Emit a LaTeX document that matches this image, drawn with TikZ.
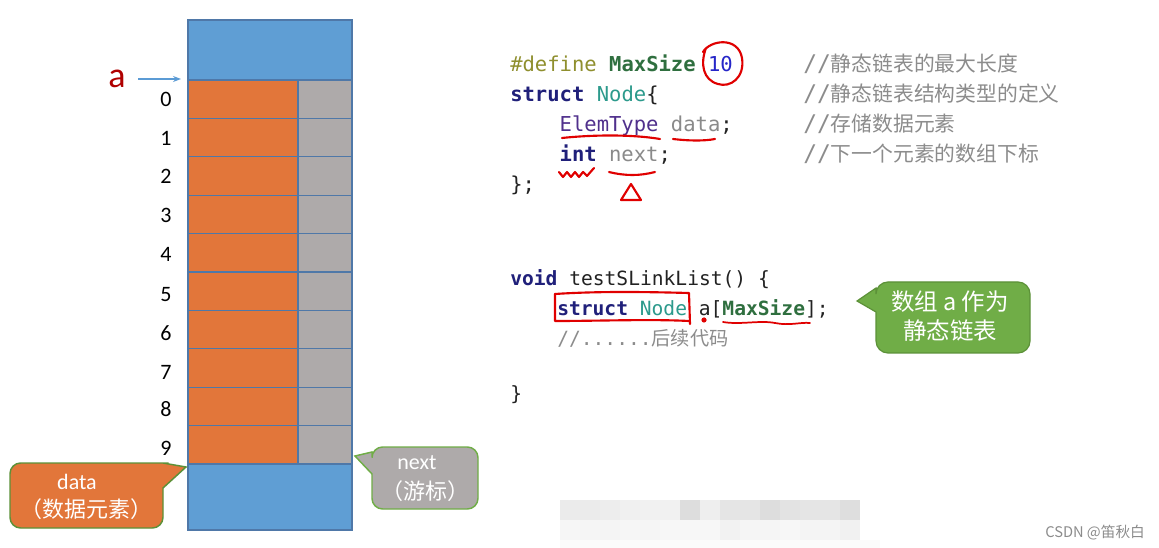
\documentclass[tikz,border=0pt]{standalone}
\usepackage{fontspec}
\setmainfont{Carlito}
\setmonofont{DejaVu Sans Mono}
\newfontfamily\cjk{Noto Sans CJK SC}
\usetikzlibrary{arrows.meta}
\definecolor{cellblue}{HTML}{5F9ED4}
\definecolor{cellorange}{HTML}{E2763A}
\definecolor{cellgray}{HTML}{AEAAAA}
\definecolor{cellline}{HTML}{4F78A8}
\definecolor{calloutgreen}{HTML}{70AD47}
\definecolor{calloutedge}{HTML}{5C9138}
\definecolor{darkred}{HTML}{B00000}
\definecolor{annred}{HTML}{E00000}
\definecolor{arrowblue}{HTML}{5B9BD5}
\definecolor{cdefine}{HTML}{8F8F2E}
\definecolor{cmacro}{HTML}{2F6F3F}
\definecolor{cnum}{HTML}{2626C8}
\definecolor{ckey}{HTML}{20207A}
\definecolor{ctype}{HTML}{2C9A8C}
\definecolor{celem}{HTML}{50308C}
\definecolor{cfield}{HTML}{8A8A8A}
\definecolor{cplain}{HTML}{222222}
\definecolor{ccomment}{HTML}{8C8C8C}
\begin{document}
\begin{tikzpicture}[x=0.75pt,y=-0.75pt,
  code/.style={anchor=base west,inner sep=0pt,text=cplain,font=\ttfamily\fontsize{15.4}{18}\selectfont},
  codeb/.style={code,font=\ttfamily\fontsize{14.7}{18}\selectfont},
  cmt/.style={anchor=base west,inner sep=0pt,text=ccomment,font=\fontsize{16.6}{20}\selectfont},
  idx/.style={inner sep=0pt,text=black,font=\fontsize{16.5}{18}\selectfont},
  cltext/.style={inner sep=0pt,text=white,font=\cjk\fontsize{16.5}{18}\selectfont},
  annot/.style={draw=annred,line width=1.6pt,line cap=round,line join=round},
  cellbox/.style={draw=cellline,line width=0.9pt}]
\useasboundingbox (0,0) rectangle (1159,548);
\fill[white] (0,0) rectangle (1159,548);

% ---------- array ----------
\filldraw[fill=cellblue,draw=cellline,line width=0.9pt] (188,20) rectangle (352,530);
\foreach \i in {0,...,9}{
  \pgfmathsetmacro{\ytop}{80+38.4*\i}
  \pgfmathsetmacro{\ybot}{80+38.4*(\i+1)}
  \filldraw[cellbox,fill=cellorange] (188,\ytop) rectangle (298,\ybot);
  \filldraw[cellbox,fill=cellgray] (298,\ytop) rectangle (352,\ybot);
}
\foreach \i/\y in {0/99,1/138,2/176,3/215,4/254,5/295,6/333,7/372,8/409,9/448}{
  \node[idx] (idx\i) at (166,\y) {\i};
}

% ---------- pointer a ----------
\node[inner sep=0pt,text=darkred,font=\fontsize{27}{30}\selectfont] (alabel) at (117,79) {a};
\coordinate (astart) at (138,79);
\coordinate (atip) at (181,79);
\draw[draw=arrowblue,line width=0.8pt,-{Stealth[length=6pt,width=4.5pt]}] (astart) -- (atip);

% ---------- data callout ----------
\coordinate (datatip) at (186,467);
\filldraw[fill=cellorange,draw=calloutedge,line width=1.1pt]
  (10,495) [rounded corners=8] -- (10,463) -- (158,463) [sharp corners] -- (163,463) -- (datatip) -- (163,488)
  [rounded corners=8] -- (163,528) -- (10,528) -- cycle;
\node[cltext,font=\fontsize{16.5}{18}\selectfont] (datatxt) at (77,482) {data};
\node[cltext] (datacn) at (86,509) {（数据元素）};

% ---------- next callout ----------
\coordinate (nexttip) at (355,456);
\filldraw[fill=cellgray,draw=calloutgreen,line width=1.1pt]
  (478,478) [rounded corners=8] -- (478,447) -- (372,447) [sharp corners] -- (372,452) -- (nexttip) -- (372,474)
  [rounded corners=8] -- (372,509) -- (478,509) -- cycle;
\node[cltext,font=\fontsize{16.5}{18}\selectfont] (nexttxt) at (417,463) {next};
\node[cltext] (nextcn) at (425,491) {（游标）};

% ---------- green callout ----------
\coordinate (greentip) at (857,301);
\filldraw[fill=calloutgreen,draw=calloutedge,line width=0.9pt]
  (1030,318) [rounded corners=9] -- (1030,282) -- (876,282) [sharp corners] -- (876,288) -- (greentip) -- (876,312)
  [rounded corners=9] -- (876,353) -- (1030,353) -- cycle;
\node[cltext,font=\cjk\fontsize{17.6}{20}\selectfont] (greenl1) at (950,302) {数组 a 作为};
\node[cltext,font=\cjk\fontsize{17.6}{20}\selectfont] (greenl2) at (950,331) {静态链表};

% ---------- code ----------
\node[code] (l1) at (510,72) {\textcolor{cdefine}{\#define} \textcolor{cmacro}{\bfseries MaxSize} \textcolor{cnum}{10}};
\node[code] (l2) at (510,102) {\textcolor{ckey}{\bfseries struct} \textcolor{ctype}{Node}\{};
\node[code] (l3) at (559.4,132) {\textcolor{celem}{ElemType} \textcolor{cfield}{data};};
\node[code] (l4) at (559.4,162) {\textcolor{ckey}{\bfseries int} \textcolor{cfield}{next};};
\node[code] (l5) at (510,192) {\};};
\node[codeb] (l6) at (510,286) {\textcolor{ckey}{\bfseries void} testSLinkList() \{};
\node[codeb] (l7) at (557,316) {\textcolor{ckey}{\bfseries struct} \textcolor{ctype}{Node} a[\textcolor{cmacro}{\bfseries MaxSize}];};
\node[codeb,text=ccomment] (l8) at (557,346) {//......{\cjk\fontsize{14.4}{18}\selectfont 后续代码}};
\node[codeb] (l9) at (510,401) {\}};

\node[cmt] (c1) at (803,72) {{\ttfamily\fontsize{17.2}{20}\selectfont //}{\cjk\fontsize{15.6}{20}\selectfont 静态链表的最大长度}};
\node[cmt] (c2) at (803,102) {{\ttfamily\fontsize{17.2}{20}\selectfont //}{\cjk\fontsize{15.6}{20}\selectfont 静态链表结构类型的定义}};
\node[cmt] (c3) at (803,132) {{\ttfamily\fontsize{17.2}{20}\selectfont //}{\cjk\fontsize{15.6}{20}\selectfont 存储数据元素}};
\node[cmt] (c4) at (803,162) {{\ttfamily\fontsize{17.2}{20}\selectfont //}{\cjk\fontsize{15.6}{20}\selectfont 下一个元素的数组下标}};

% ---------- red annotations ----------
\draw[annot] (703,52) .. controls (710,40) and (738,36) .. (742,58)
  .. controls (745,78) and (730,88) .. (718,84)
  .. controls (703,80) and (700,64) .. (706,48);
\draw[annot] (562,138) .. controls (590,135) and (630,134) .. (660,139);
\draw[annot] (673,139) .. controls (690,141) and (705,141) .. (715,139);
\draw[annot] (559,172) -- (563,177) -- (567,172) -- (571,177) -- (575,172) -- (579,177) -- (583,172) -- (587,176) -- (594,168);
\draw[annot] (609,172) .. controls (625,176) and (640,176) .. (655,172);
\draw[annot] (631,184) -- (621,200) -- (641,200) -- cycle;
\draw[annot] (555,294) .. controls (600,291) and (650,292) .. (689,293) -- (690,324);
\draw[annot] (689,321) .. controls (650,319) and (600,321) .. (555,321) -- (555,294);
\fill[annred] (704,320) circle (2.6);
\draw[annot,line width=1.3pt] (723,322) .. controls (740,325) and (760,320) .. (775,323) .. controls (790,326) and (800,322) .. (810,323);

% ---------- mosaic ----------
\foreach \k/\g in {0/92,1/92,2/93,3/94,4/94.5,5/94.5,6/86.5,7/93.5,8/90,9/90,10/86.5,11/89,12/90,13/90,14/87}{
  \fill[fill=white!\g!black] (560+20*\k,500) rectangle (580+20*\k,520);
}
\foreach \k/\g in {0/96.5,1/96,2/95.5,3/96.5,4/96,5/97,6/97,7/97,8/95,9/96,10/96,11/97,12/95.5,13/95.5,14/94.5}{
  \fill[fill=white!\g!black] (560+20*\k,520) rectangle (580+20*\k,540);
}
\fill[white!98.5!black] (560,540) rectangle (880,548);

% ---------- watermark ----------
\node[inner sep=0pt,anchor=west,text=black!45,font=\cjk\fontsize{11}{13}\selectfont] (wm) at (1045,533) {CSDN @笛秋白};
\end{tikzpicture}
\end{document}
